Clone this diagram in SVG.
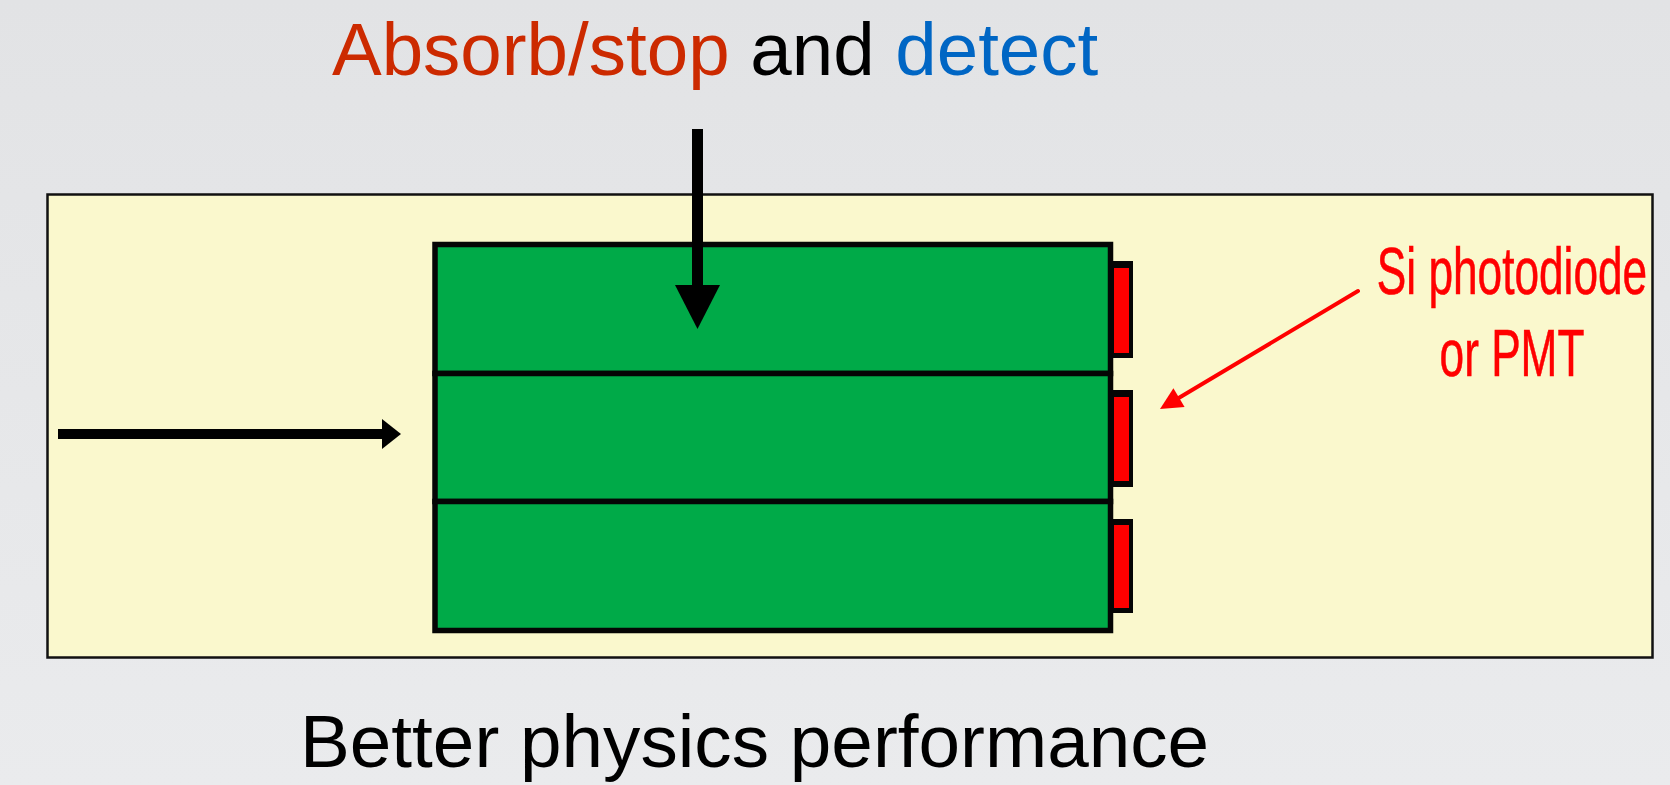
<svg xmlns="http://www.w3.org/2000/svg" width="1670" height="785" viewBox="0 0 1670 785">
  <defs>
    <linearGradient id="bg" x1="0" y1="0" x2="0" y2="1">
      <stop offset="0" stop-color="#e2e3e5"/>
      <stop offset="1" stop-color="#eaebed"/>
    </linearGradient>
  </defs>
  <style>
    .sans { font-family: "Liberation Sans", Arial, Helvetica, sans-serif; }
    .frame { fill: #faf8cd; stroke: #111; stroke-width: 2.5; }
    .band { fill: #00aa48; stroke: #050505; stroke-width: 5.5; }
    .pd-case { fill: #050505; }
    .pd { fill: #ff0000; }
    .shaft { stroke: #000; stroke-linecap: butt; fill: none; }
    .head { fill: #000; }
    .pointer { stroke: #ff0000; stroke-width: 4; stroke-linecap: round; fill: none; }
    .pointer-head { fill: #ff0000; }
    .label { fill: #ff0000; stroke: #ff0000; stroke-width: 0.6; }
  </style>

  <!-- backdrop -->
  <rect x="0" y="0" width="1670" height="785" fill="url(#bg)"/>

  <!-- heading -->
  <g id="title">
    <text class="sans" x="332" y="75" font-size="74.5"><tspan fill="#cc2a00">Absorb/stop</tspan><tspan fill="#000"> and </tspan><tspan fill="#0066c4">detect</tspan></text>
  </g>

  <!-- pale panel holding the detector sketch -->
  <g id="panel">
    <rect class="frame" x="47.5" y="194.5" width="1605" height="463"/>
  </g>

  <!-- stacked scintillator crystals -->
  <g id="crystal-stack">
    <rect class="band" x="435" y="244.5" width="675.5" height="129"/>
    <rect class="band" x="435" y="373.5" width="675.5" height="128"/>
    <rect class="band" x="435" y="501.5" width="675.5" height="129"/>
  </g>

  <!-- readout elements on the crystal ends -->
  <g id="photodiode-1">
    <rect class="pd-case" x="1112" y="261" width="21" height="97"/>
    <rect class="pd" x="1114" y="268" width="15" height="85"/>
  </g>
  <g id="photodiode-2">
    <rect class="pd-case" x="1112" y="390" width="21" height="97"/>
    <rect class="pd" x="1114" y="397" width="15" height="84"/>
  </g>
  <g id="photodiode-3">
    <rect class="pd-case" x="1112" y="519" width="21" height="94"/>
    <rect class="pd" x="1114" y="525" width="15" height="83"/>
  </g>

  <!-- readout label (condensed lettering) -->
  <g id="readout-label" transform="translate(1512,0) scale(0.66,1)">
    <text class="sans label" x="0" y="294" font-size="67" text-anchor="middle">Si photodiode</text>
    <text class="sans label" x="0" y="376" font-size="67" text-anchor="middle">or PMT</text>
  </g>

  <!-- arrows -->
  <g id="connectors">
    <line class="shaft" x1="697.5" y1="129" x2="697.5" y2="287" stroke-width="11"/>
    <polygon class="head" points="675,285 720,285 697.5,329"/>

    <line class="shaft" x1="58" y1="434" x2="384" y2="434" stroke-width="10"/>
    <polygon class="head" points="382,419 401,434 382,449"/>

    <line class="pointer" x1="1358" y1="291" x2="1177" y2="399"/>
    <polygon class="pointer-head" points="1160,409 1173.4,388.3 1184.6,407.1"/>
  </g>

  <!-- caption -->
  <g id="caption">
    <text class="sans" x="300" y="767" font-size="74.7" fill="#000">Better physics performance</text>
  </g>
</svg>
